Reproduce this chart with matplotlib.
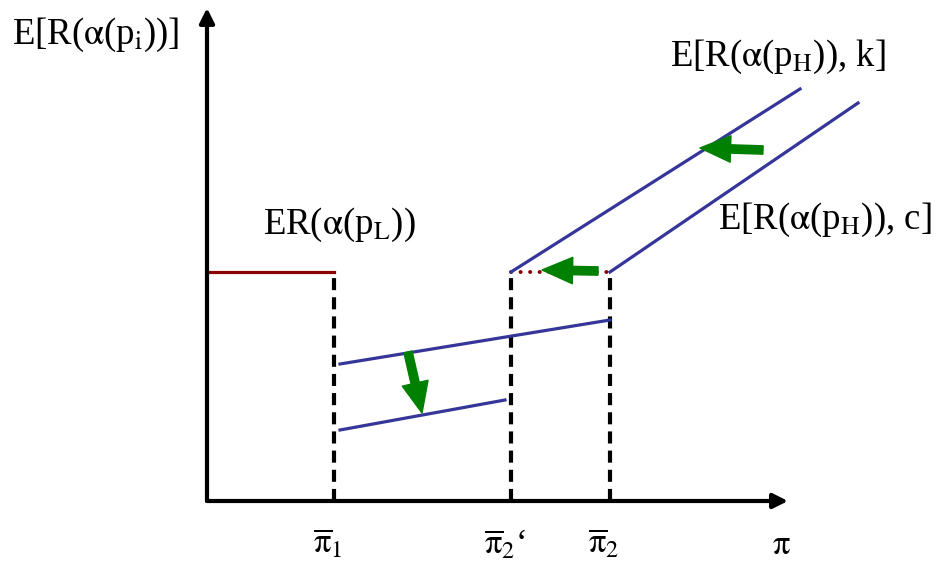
import matplotlib.pyplot as plt
from matplotlib.patches import FancyArrowPatch

plt.rcParams['mathtext.fontset'] = 'stix'
plt.rcParams['mathtext.default'] = 'rm'
plt.rcParams['font.family'] = ['Liberation Serif', 'DejaVu Serif']

# thresholds on the pi axis
pi_1 = 12.7
pi_2_prime = 30.4
pi_2 = 40.3
axis_x_end = 58.1
axis_y_end = 49.3

# expected return of the low type, flat up to pi_1
er_low_level = 22.9

# high type lines (start point, end point)
line_k_x = [pi_2_prime, 59.3]
line_k_y = [er_low_level, 41.2]
line_c_x = [pi_2, 65.1]
line_c_y = [er_low_level, 39.8]

# middle segments between pi_1 and pi_2
mid_upper_x = [13.3, 40.3]
mid_upper_y = [13.7, 18.1]
mid_lower_x = [13.3, 29.8]
mid_lower_y = [7.1, 10.1]

# green shift arrows (tail, tip)
shift_arrows = [
    ((20.1, 14.9), (21.5, 8.8)),
    ((39.1, 23.0), (33.5, 23.1)),
    ((55.6, 35.1), (49.3, 35.3)),
]

tick_labels = [r'$\overline{\pi}_1$', r'$\overline{\pi}_2$‘', r'$\overline{\pi}_2$']
tick_pos = [pi_1, pi_2_prime, pi_2]

BLUE = '#35359a'
RED = '#8b0000'
GREEN = '#008000'

fig = plt.figure(figsize=(9.38, 5.74), dpi=100)
ax = fig.add_axes([0, 0, 1, 1])
ax.set_xlim(-20.7, 73.1)
ax.set_ylim(-7.3, 50.1)
ax.axis('off')

# axes with arrow heads
for tip in [(axis_x_end, 0), (0, axis_y_end)]:
    ax.annotate('', xy=tip, xytext=(0, 0),
                arrowprops=dict(arrowstyle='-|>', color='black', lw=3,
                                mutation_scale=22, shrinkA=0, shrinkB=0))

# low type
ax.plot([0, pi_1], [er_low_level, er_low_level], color=RED, lw=2.3)
ax.plot([pi_2_prime, pi_2], [er_low_level, er_low_level], color=RED, lw=2.8,
        linestyle=(0, (0.05, 2.4)), dash_capstyle='round')

# dashed verticals
for x in tick_pos:
    ax.plot([x, x], [0, er_low_level], color='black', lw=3,
            linestyle=(0, (2.9, 1.7)))

# blue lines
ax.plot(line_k_x, line_k_y, color=BLUE, lw=2.3)
ax.plot(line_c_x, line_c_y, color=BLUE, lw=2.3)
ax.plot(mid_upper_x, mid_upper_y, color=BLUE, lw=2.3)
ax.plot(mid_lower_x, mid_lower_y, color=BLUE, lw=2.3)

for tail, tip in shift_arrows:
    arr = FancyArrowPatch(tail, tip, mutation_scale=10, color=GREEN,
                          arrowstyle='simple,head_length=2.2,head_width=1.9,tail_width=0.6',
                          shrinkA=0, shrinkB=0, zorder=5)
    ax.add_patch(arr)

fs = 26.5
ax.text(-19.5, 46.6, r'E[R($\alpha$(p$_\mathrm{i}$))]', fontsize=fs, ha='left', va='center')
ax.text(5.6, 27.6, r'ER($\alpha$(p$_\mathrm{L}$))', fontsize=fs, ha='left', va='center')
ax.text(46.3, 44.4, r'E[R($\alpha$(p$_\mathrm{H}$)), k]', fontsize=fs, ha='left', va='center')
ax.text(51.1, 28.1, r'E[R($\alpha$(p$_\mathrm{H}$)), c]', fontsize=fs, ha='left', va='center')

for x, lab in zip(tick_pos, tick_labels):
    ax.text(x - 0.6, -4.4, lab, fontsize=25, ha='center', va='center')
ax.text(57.4, -4.4, r'$\pi$', fontsize=25, ha='center', va='center')

fig.savefig('out.png', dpi=100)
